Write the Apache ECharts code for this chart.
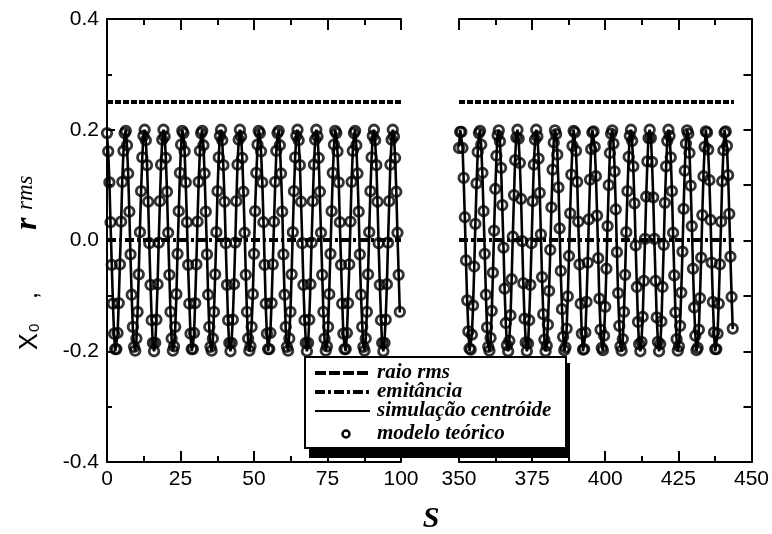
<!DOCTYPE html>
<html>
<head>
<meta charset="utf-8">
<script src="https://cdn.jsdelivr.net/npm/echarts/dist/echarts.min.js"></script>
<style>
  html, body { margin: 0; padding: 0; background: #fff; }
  #chart { width: 772px; height: 534px; }
</style>
</head>
<body>
<div id="chart"></div>
<script>
// Centroid oscillation x0(s) and rms envelope, shown in two windows of s.
const S_STEP = 0.4;          // sampling step along s
const leftStart = 0;         // first s of window 1
const rightStart = 350;      // first s of window 2

// Theoretical model (circles), window 1: s = 0 ... 99.6
const modelLeft = [
  0.194, 0.161, 0.105, 0.033, -0.044, -0.114, -0.168, -0.196, -0.196, -0.167, -0.113, -0.043, 0.034,
  0.106, 0.162, 0.194, 0.198, 0.172, 0.121, 0.052, -0.025, -0.098, -0.156, -0.192, -0.199, -0.177,
  -0.129, -0.061, 0.015, 0.089, 0.150, 0.189, 0.200, 0.181, 0.136, 0.070, -0.005, -0.080, -0.144,
  -0.185, -0.200, -0.185, -0.143, -0.079, -0.004, 0.071, 0.137, 0.182, 0.200, 0.188, 0.149, 0.088,
  0.014, -0.062, -0.129, -0.177, -0.199, -0.191, -0.156, -0.097, -0.024, 0.053, 0.122, 0.173, 0.198,
  0.194, 0.161, 0.105, 0.033, -0.044, -0.114, -0.168, -0.196, -0.196, -0.167, -0.113, -0.043, 0.034,
  0.106, 0.162, 0.194, 0.198, 0.172, 0.121, 0.052, -0.025, -0.098, -0.156, -0.192, -0.199, -0.177,
  -0.129, -0.061, 0.015, 0.089, 0.150, 0.189, 0.200, 0.181, 0.136, 0.070, -0.005, -0.080, -0.144,
  -0.185, -0.200, -0.185, -0.143, -0.079, -0.004, 0.071, 0.137, 0.182, 0.200, 0.188, 0.149, 0.088,
  0.014, -0.062, -0.129, -0.177, -0.199, -0.191, -0.156, -0.097, -0.024, 0.053, 0.122, 0.173, 0.198,
  0.194, 0.161, 0.105, 0.033, -0.044, -0.114, -0.168, -0.196, -0.196, -0.167, -0.113, -0.043, 0.034,
  0.106, 0.162, 0.194, 0.198, 0.172, 0.121, 0.052, -0.025, -0.098, -0.156, -0.192, -0.199, -0.177,
  -0.129, -0.061, 0.015, 0.089, 0.150, 0.189, 0.200, 0.181, 0.136, 0.070, -0.005, -0.080, -0.144,
  -0.185, -0.200, -0.185, -0.143, -0.079, -0.004, 0.071, 0.137, 0.182, 0.200, 0.188, 0.149, 0.088,
  0.014, -0.062, -0.129, -0.177, -0.199, -0.191, -0.156, -0.097, -0.024, 0.053, 0.122, 0.173, 0.198,
  0.194, 0.161, 0.105, 0.033, -0.044, -0.114, -0.168, -0.196, -0.196, -0.167, -0.113, -0.043, 0.034,
  0.106, 0.162, 0.194, 0.198, 0.172, 0.121, 0.052, -0.025, -0.098, -0.156, -0.192, -0.199, -0.177,
  -0.129, -0.061, 0.015, 0.089, 0.150, 0.189, 0.200, 0.181, 0.136, 0.070, -0.005, -0.080, -0.144,
  -0.185, -0.200, -0.185, -0.143, -0.079, -0.004, 0.071, 0.137, 0.182, 0.200, 0.188, 0.149, 0.088,
  0.014, -0.062, -0.129
];

// Theoretical model (circles), window 2: s = 350 ... 443.6
const modelRight = [
  0.167, 0.196, 0.196, 0.167, 0.113, 0.042, -0.036, -0.108, -0.164, -0.195,
  -0.197, -0.170, -0.117, -0.047, 0.030, 0.103, 0.160, 0.194, 0.198, 0.173,
  0.122, 0.053, -0.024, -0.098, -0.157, -0.192, -0.199, -0.176, -0.127, -0.058,
  0.018, 0.093, 0.153, 0.190, 0.199, 0.179, 0.131, 0.064, -0.013, -0.087,
  -0.149, -0.189, -0.200, -0.181, -0.135, -0.070, 0.007, 0.082, 0.145, 0.186,
  0.200, 0.184, 0.140, 0.075, -0.001, -0.077, -0.141, -0.184, -0.200, -0.186,
  -0.144, -0.080, -0.005, 0.071, 0.137, 0.182, 0.200, 0.188, 0.148, 0.086,
  0.011, -0.066, -0.133, -0.179, -0.200, -0.190, -0.152, -0.091, -0.017, 0.060,
  0.128, 0.177, 0.199, 0.192, 0.155, 0.096, 0.022, -0.055, -0.124, -0.174,
  -0.198, -0.193, -0.159, -0.101, -0.028, 0.049, 0.119, 0.171, 0.198, 0.195,
  0.162, 0.106, 0.034, -0.043, -0.114, -0.168, -0.197, -0.196, -0.166, -0.111,
  -0.040, 0.038, 0.110, 0.165, 0.195, 0.197, 0.169, 0.116, 0.045, -0.032,
  -0.105, -0.161, -0.194, -0.198, -0.172, -0.120, -0.051, 0.026, 0.100, 0.158,
  0.193, 0.199, 0.175, 0.125, 0.056, -0.021, -0.095, -0.154, -0.191, -0.199,
  -0.178, -0.129, -0.062, 0.015, 0.089, 0.151, 0.189, 0.200, 0.180, 0.134,
  0.067, -0.009, -0.084, -0.147, -0.187, -0.200, -0.183, -0.138, -0.073, 0.003,
  0.079, 0.143, 0.185, 0.200, 0.185, 0.142, 0.078, 0.003, -0.073, -0.139,
  -0.183, -0.200, -0.187, -0.146, -0.084, -0.008, 0.068, 0.134, 0.180, 0.200,
  0.189, 0.150, 0.089, 0.014, -0.063, -0.130, -0.178, -0.199, -0.191, -0.154,
  -0.094, -0.020, 0.057, 0.126, 0.175, 0.199, 0.193, 0.158, 0.099, 0.026,
  -0.051, -0.121, -0.172, -0.198, -0.194, -0.161, -0.104, -0.031, 0.046, 0.116,
  0.169, 0.197, 0.195, 0.164, 0.109, 0.037, -0.040, -0.111, -0.166, -0.196,
  -0.196, -0.168, -0.114, -0.043, 0.034, 0.107, 0.163, 0.195, 0.197, 0.171,
  0.118, 0.048, -0.029, -0.102, -0.159
];

// Centroid from the simulation (solid line), window 1
const simLeft = [
  0.19, 0.16, 0.11, 0.03, -0.04, -0.11, -0.17, -0.20, -0.20, -0.17, -0.11, -0.04, 0.03,
  0.11, 0.16, 0.19, 0.20, 0.17, 0.12, 0.05, -0.03, -0.10, -0.16, -0.19, -0.20, -0.18,
  -0.13, -0.06, 0.02, 0.09, 0.15, 0.19, 0.20, 0.18, 0.14, 0.07, -0.01, -0.08, -0.14,
  -0.19, -0.20, -0.19, -0.14, -0.08, 0.00, 0.07, 0.14, 0.18, 0.20, 0.19, 0.15, 0.09,
  0.01, -0.06, -0.13, -0.18, -0.20, -0.19, -0.16, -0.10, -0.02, 0.05, 0.12, 0.17, 0.20,
  0.19, 0.16, 0.10, 0.03, -0.05, -0.11, -0.17, -0.20, -0.19, -0.17, -0.11, -0.04, 0.04,
  0.11, 0.16, 0.19, 0.20, 0.17, 0.12, 0.05, -0.02, -0.10, -0.16, -0.19, -0.20, -0.18,
  -0.13, -0.06, 0.01, 0.09, 0.15, 0.19, 0.20, 0.18, 0.13, 0.07, -0.01, -0.08, -0.15,
  -0.19, -0.20, -0.18, -0.14, -0.08, -0.01, 0.07, 0.14, 0.18, 0.20, 0.19, 0.15, 0.09,
  0.02, -0.06, -0.13, -0.18, -0.20, -0.19, -0.15, -0.10, -0.02, 0.06, 0.12, 0.17, 0.20,
  0.19, 0.16, 0.11, 0.04, -0.04, -0.12, -0.17, -0.20, -0.20, -0.16, -0.11, -0.04, 0.03,
  0.10, 0.16, 0.19, 0.20, 0.17, 0.12, 0.06, -0.03, -0.10, -0.16, -0.19, -0.20, -0.17,
  -0.13, -0.06, 0.02, 0.09, 0.15, 0.19, 0.20, 0.18, 0.14, 0.07, 0.00, -0.08, -0.14,
  -0.18, -0.20, -0.19, -0.14, -0.08, 0.00, 0.07, 0.14, 0.18, 0.20, 0.19, 0.15, 0.08,
  0.01, -0.06, -0.13, -0.18, -0.20, -0.19, -0.16, -0.09, -0.02, 0.05, 0.12, 0.17, 0.20,
  0.19, 0.16, 0.11, 0.03, -0.04, -0.11, -0.17, -0.19, -0.20, -0.17, -0.11, -0.05, 0.03,
  0.11, 0.16, 0.19, 0.20, 0.17, 0.12, 0.05, -0.03, -0.10, -0.15, -0.19, -0.20, -0.18,
  -0.13, -0.06, 0.02, 0.09, 0.15, 0.19, 0.20, 0.18, 0.14, 0.07, -0.01, -0.08, -0.14,
  -0.19, -0.20, -0.18, -0.14, -0.08, 0.00, 0.07, 0.14, 0.18, 0.20, 0.19, 0.15, 0.09,
  0.01, -0.06, -0.13
];

// Centroid from the simulation (solid line), window 2
const simRight = [
  0.17, 0.20, 0.20, 0.17, 0.11, 0.04, -0.04, -0.11, -0.16, -0.20,
  -0.20, -0.17, -0.12, -0.05, 0.03, 0.10, 0.16, 0.19, 0.20, 0.17,
  0.12, 0.05, -0.02, -0.10, -0.16, -0.19, -0.20, -0.18, -0.13, -0.06,
  0.02, 0.09, 0.15, 0.19, 0.20, 0.18, 0.13, 0.06, -0.01, -0.09,
  -0.15, -0.19, -0.20, -0.18, -0.14, -0.07, 0.01, 0.08, 0.15, 0.19,
  0.20, 0.18, 0.14, 0.08, 0.00, -0.08, -0.14, -0.18, -0.20, -0.19,
  -0.14, -0.08, -0.01, 0.07, 0.14, 0.18, 0.20, 0.19, 0.15, 0.09,
  0.01, -0.07, -0.13, -0.18, -0.20, -0.19, -0.15, -0.09, -0.02, 0.06,
  0.13, 0.18, 0.20, 0.19, 0.16, 0.10, 0.02, -0.06, -0.12, -0.17,
  -0.20, -0.19, -0.16, -0.10, -0.03, 0.05, 0.12, 0.17, 0.20, 0.20,
  0.16, 0.11, 0.03, -0.04, -0.11, -0.17, -0.20, -0.20, -0.17, -0.11,
  -0.04, 0.04, 0.11, 0.17, 0.20, 0.20, 0.17, 0.12, 0.05, -0.03,
  -0.11, -0.16, -0.19, -0.20, -0.17, -0.12, -0.05, 0.03, 0.10, 0.16,
  0.19, 0.20, 0.18, 0.13, 0.06, -0.02, -0.10, -0.15, -0.19, -0.20,
  -0.18, -0.13, -0.06, 0.02, 0.09, 0.15, 0.19, 0.20, 0.18, 0.13,
  0.07, -0.01, -0.08, -0.15, -0.19, -0.20, -0.18, -0.14, -0.07, 0.00,
  0.08, 0.14, 0.19, 0.20, 0.19, 0.14, 0.08, 0.00, -0.07, -0.14,
  -0.18, -0.20, -0.19, -0.15, -0.08, -0.01, 0.07, 0.13, 0.18, 0.20,
  0.19, 0.15, 0.09, 0.01, -0.06, -0.13, -0.18, -0.20, -0.19, -0.15,
  -0.09, -0.02, 0.06, 0.13, 0.18, 0.20, 0.19, 0.16, 0.10, 0.03,
  -0.05, -0.12, -0.17, -0.20, -0.19, -0.16, -0.10, -0.03, 0.05, 0.12,
  0.17, 0.20, 0.20, 0.16, 0.11, 0.04, -0.04, -0.11, -0.17, -0.20,
  -0.20, -0.17, -0.11, -0.04, 0.03, 0.11, 0.16, 0.20, 0.20, 0.17,
  0.12, 0.05, -0.03, -0.10, -0.16
];

// rms radius and emittance (constant along s)
const rmsRadius = 0.25;
const emittance = 0.001;
const envelopeLeftS = [0, 100];
const envelopeRightS = [350, 444];

// Axis ranges and tick labels
const xLeftRange = [0, 100];
const xRightRange = [350, 450];
const xTickStep = 25;
const yRange = [-0.4, 0.4];
const yLabelStep = 0.2;

const seriesNames = ['raio rms', 'emitância', 'simulação centróide', 'modelo teórico'];

const toPairs = (start, vals) => vals.map((v, i) => [+(start + i * S_STEP).toFixed(1), v]);
const flat = (sArr, v) => sArr.map(s => [s, v]);

const BLACK = '#000';
const tickFont = { fontFamily: '"Liberation Sans", Arial, sans-serif', fontSize: 21, color: BLACK };

function xAxisFor(gridIndex, range, position, showLabels) {
  return {
    type: 'value', gridIndex, position, min: range[0], max: range[1], interval: xTickStep,
    axisLine: { show: true, onZero: false, lineStyle: { color: BLACK, width: 2 } },
    axisTick: { show: true, inside: true, length: 11, lineStyle: { color: BLACK, width: 2 } },
    minorTick: { show: true, splitNumber: 2, length: 6, lineStyle: { color: BLACK, width: 2 } },
    splitLine: { show: false }, minorSplitLine: { show: false },
    axisLabel: showLabels
      ? Object.assign({ margin: 7, showMinLabel: true, showMaxLabel: true, hideOverlap: false }, tickFont)
      : { show: false }
  };
}

const plotDash = { rms: [6, 2], emit: [9, 3, 3, 3] };
const keyDash = { rms: [11, 3], emit: [10, 3, 3, 3] };

function panelSeries(xi, yi, model, sim, start, envS) {
  return [
    { name: seriesNames[0], type: 'line', xAxisIndex: xi, yAxisIndex: yi, data: flat(envS, rmsRadius),
      symbol: 'none', lineStyle: { color: BLACK, width: 4, type: plotDash.rms }, z: 3 },
    { name: seriesNames[1], type: 'line', xAxisIndex: xi, yAxisIndex: yi, data: flat(envS, emittance),
      symbol: 'none', lineStyle: { color: BLACK, width: 4, type: plotDash.emit }, z: 3 },
    { name: seriesNames[2], type: 'line', xAxisIndex: xi, yAxisIndex: yi, data: toPairs(start, sim),
      symbol: 'none', lineStyle: { color: BLACK, width: 2.6 }, z: 4 },
    { name: seriesNames[3], type: 'scatter', xAxisIndex: xi, yAxisIndex: yi, data: toPairs(start, model),
      symbol: 'circle', symbolSize: 9.5,
      itemStyle: { color: 'rgba(0,0,0,0)', borderColor: BLACK, borderWidth: 2.8 }, z: 5 }
  ];
}

// Legend box drawn as graphics, over the plot
const LX = 305, LY = 357, LW = 261, LH = 91;
const legendRows = [373, 392, 411, 434];
const legendFont = { fontFamily: '"Liberation Serif", "Times New Roman", serif', fontStyle: 'italic', fontWeight: 'bold', fontSize: 21 };

const legendGraphics = [
  { type: 'rect', z: 100, shape: { x: LX + 4, y: LY + 6, width: LW, height: LH + 4 }, style: { fill: BLACK } },
  { type: 'rect', z: 101, shape: { x: LX, y: LY, width: LW, height: LH }, style: { fill: '#fff', stroke: BLACK, lineWidth: 2 } },
  { type: 'line', z: 102, shape: { x1: 315, y1: legendRows[0], x2: 370, y2: legendRows[0] },
    style: { stroke: BLACK, lineWidth: 4, lineDash: keyDash.rms } },
  { type: 'line', z: 102, shape: { x1: 315, y1: legendRows[1], x2: 370, y2: legendRows[1] },
    style: { stroke: BLACK, lineWidth: 4, lineDash: keyDash.emit } },
  { type: 'line', z: 102, shape: { x1: 315, y1: legendRows[2], x2: 370, y2: legendRows[2] },
    style: { stroke: BLACK, lineWidth: 2 } },
  { type: 'circle', z: 102, shape: { cx: 346, cy: legendRows[3], r: 3.5 },
    style: { fill: '#fff', stroke: BLACK, lineWidth: 2.4 } }
].concat(seriesNames.map((name, i) => ({
  type: 'text', z: 102, x: 377, y: legendRows[i],
  style: Object.assign({ text: name, fill: BLACK, verticalAlign: 'middle', align: 'left' }, legendFont)
})));

// Axis titles
const titleGraphics = [
  {
    type: 'group', x: 38, y: 350, rotation: Math.PI / 2, z: 50,
    children: [
      { type: 'text', x: 0, y: -8, style: { text: 'X', fontFamily: '"Liberation Sans", Arial, sans-serif', fontSize: 25, fill: BLACK, verticalAlign: 'middle' } },
      { type: 'text', x: 18, y: -3.5, style: { text: '0', fontFamily: '"Liberation Sans", Arial, sans-serif', fontSize: 15, fill: BLACK, verticalAlign: 'middle' } },
      { type: 'text', x: 51, y: -8, style: { text: ',', fontFamily: '"Liberation Sans", Arial, sans-serif', fontSize: 25, fill: BLACK, verticalAlign: 'middle' } },
      { type: 'text', x: 120, y: -10, style: { text: 'r', fontFamily: '"Liberation Serif", serif', fontStyle: 'italic', fontWeight: 'bold', fontSize: 32, fill: BLACK, verticalAlign: 'middle' } },
      { type: 'text', x: 140, y: -12, style: { text: 'rms', fontFamily: '"Liberation Serif", serif', fontStyle: 'italic', fontSize: 23, fill: BLACK, verticalAlign: 'middle' } }
    ]
  },
  { type: 'text', x: 431, y: 519, z: 50,
    style: { text: 'S', fontFamily: '"Liberation Serif", serif', fontStyle: 'italic', fontWeight: 'bold', fontSize: 30, fill: BLACK, align: 'center', verticalAlign: 'middle' } }
];

const option = {
  animation: false,
  backgroundColor: '#fff',
  grid: [
    { left: 107, right: 371, top: 19, bottom: 72 },
    { left: 459, right: 20, top: 19, bottom: 72 }
  ],
  xAxis: [
    xAxisFor(0, xLeftRange, 'bottom', true),
    xAxisFor(0, xLeftRange, 'top', false),
    xAxisFor(1, xRightRange, 'bottom', true),
    xAxisFor(1, xRightRange, 'top', false)
  ],
  yAxis: [
    {
      type: 'value', gridIndex: 0, position: 'left', min: yRange[0], max: yRange[1], interval: yLabelStep,
      axisLine: { show: true, onZero: false, lineStyle: { color: BLACK, width: 2 } },
      axisTick: { show: true, inside: true, length: 8, lineStyle: { color: BLACK, width: 2 } },
      minorTick: { show: true, splitNumber: 2, length: 5, lineStyle: { color: BLACK, width: 2 } },
      splitLine: { show: false },
      axisLabel: Object.assign({ margin: 8, formatter: v => v.toFixed(1) }, tickFont)
    },
    {
      type: 'value', gridIndex: 1, position: 'right', min: yRange[0], max: yRange[1], interval: yLabelStep / 2,
      axisLine: { show: true, onZero: false, lineStyle: { color: BLACK, width: 2 } },
      axisTick: { show: true, inside: true, length: 8, lineStyle: { color: BLACK, width: 2 } },
      splitLine: { show: false },
      axisLabel: { show: false }
    }
  ],
  series: [].concat(
    panelSeries(0, 0, modelLeft, simLeft, leftStart, envelopeLeftS),
    panelSeries(2, 1, modelRight, simRight, rightStart, envelopeRightS)
  ),
  graphic: { elements: titleGraphics.concat(legendGraphics) }
};

const chart = echarts.init(document.getElementById('chart'), null, { renderer: 'canvas' });
chart.setOption(option);
</script>
</body>
</html>
